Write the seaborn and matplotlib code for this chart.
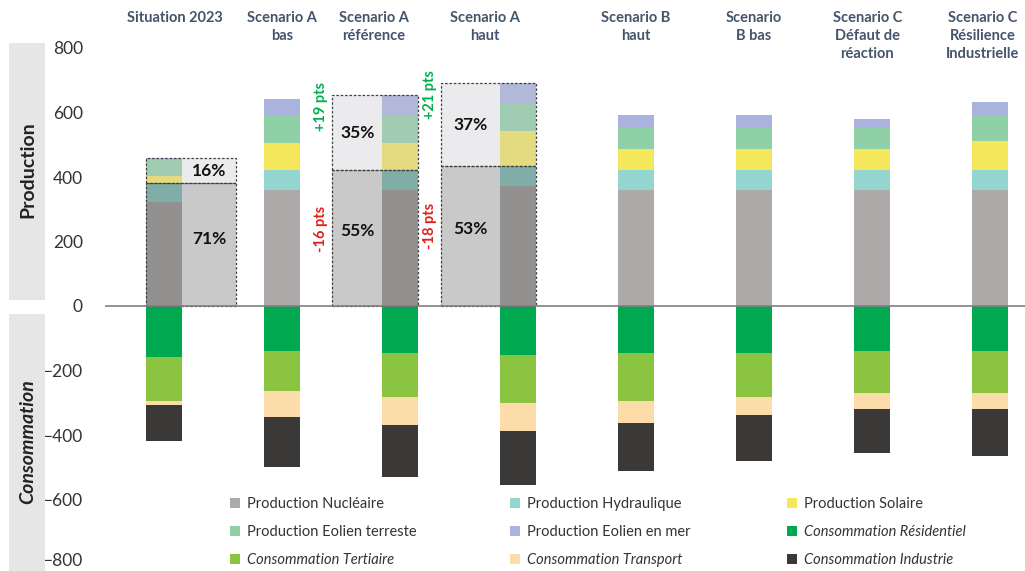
import numpy as np
import pandas as pd
import matplotlib
matplotlib.use("Agg")
import matplotlib.pyplot as plt
import matplotlib.transforms as mtransforms
from matplotlib.patches import Rectangle
import seaborn as sns

# =========================
# DATA (TWh)
# =========================
scenarios = ["Situation 2023", "Scenario A\nbas", "Scenario A\nréférence", "Scenario A\nhaut",
             "Scenario B\nhaut", "Scenario\nB bas", "Scenario C\nDéfaut de\nréaction",
             "Scenario C\nRésilience\nIndustrielle"]

prod_nucleaire = [323, 359, 359, 373, 359, 359, 359, 359]
prod_hydraulique = [57, 64, 62, 61, 64, 64, 64, 64]
prod_solaire = [24, 81, 83, 108, 63, 63, 63, 88]
prod_eolien_terre = [50, 87, 87, 87, 67, 67, 67, 80]
prod_eolien_mer = [6, 50, 62, 62, 38, 38, 26, 43]

conso_residentiel = [159, 140, 147, 153, 147, 147, 140, 140]
conso_tertiaire = [136, 124, 136, 148, 148, 136, 130, 130]
conso_transport = [12, 81, 87, 87, 68, 56, 50, 50]
conso_industrie = [111, 155, 161, 167, 150, 143, 137, 144]

# highlighted scenarios: share of controllable / variable production
highlight_idx = [0, 2, 3]
share_low = ["71%", "55%", "53%"]
share_high = ["16%", "35%", "37%"]
delta_low = ["-16 pts", "-18 pts"]
delta_high = ["+19 pts", "+21 pts"]

series = [
    ("Production Nucléaire", prod_nucleaire, "#AEAAAA"),
    ("Production Hydraulique", prod_hydraulique, "#93D5CF"),
    ("Production Solaire", prod_solaire, "#F5E75C"),
    ("Production Eolien terreste", prod_eolien_terre, "#8FD0A6"),
    ("Production Eolien en mer", prod_eolien_mer, "#A9B3DE"),
    ("Consommation Résidentiel", [-v for v in conso_residentiel], "#00A94F"),
    ("Consommation Tertiaire", [-v for v in conso_tertiaire], "#8BC441"),
    ("Consommation Transport", [-v for v in conso_transport], "#FCDCA8"),
    ("Consommation Industrie", [-v for v in conso_industrie], "#3B3838"),
]

# =========================
# STYLE
# =========================
sns.set_theme(style="white")
plt.rcParams["font.family"] = ["Lato", "DejaVu Sans"]
TXT = "#333333"
TITLE_C = "#44546A"
BAR_W = 0.305

fig = plt.figure(figsize=(10.25, 5.71), dpi=100)
ax = fig.add_axes([105 / 1025, 1 - 564 / 571, 920 / 1025, 516 / 571])

# =========================
# STACKED BARS
# =========================
pos_bottom = np.zeros(len(scenarios))
neg_bottom = np.zeros(len(scenarios))
handles = {}
for name, vals, color in series:
    vals = np.array(vals, dtype=float)
    bottom = pos_bottom if vals[0] >= 0 else neg_bottom
    df = pd.DataFrame({"scenario": range(len(scenarios)), "value": vals})
    sns.barplot(data=df, x="scenario", y="value", bottom=bottom.copy(), color=color,
                saturation=1, width=BAR_W, errorbar=None, linewidth=0, ax=ax, zorder=2)
    bottom += vals
    handles[name] = Rectangle((0, 0), 1, 1, facecolor=color, edgecolor="none")

# =========================
# HIGHLIGHT BOXES
# =========================
box_side = [1, -1, -1]
box_width = [0.46, 0.42, 0.50]
for k, i in enumerate(highlight_idx):
    low_top = prod_nucleaire[i] + prod_hydraulique[i]
    total = low_top + prod_solaire[i] + prod_eolien_terre[i] + prod_eolien_mer[i]
    if box_side[k] > 0:
        x0, x1 = i - BAR_W / 2, i + BAR_W / 2 + box_width[k]
        xc = i + BAR_W / 2 + box_width[k] / 2
    else:
        x0, x1 = i - BAR_W / 2 - box_width[k], i + BAR_W / 2
        xc = i - BAR_W / 2 - box_width[k] / 2
    ax.add_patch(Rectangle((x0, 0), x1 - x0, low_top, facecolor="#5d5d5d", alpha=0.33,
                           edgecolor="none", zorder=3))
    ax.add_patch(Rectangle((x0, low_top), x1 - x0, total - low_top, facecolor="#c4c4cc",
                           alpha=0.33, edgecolor="none", zorder=3))
    for y0, h in [(0, low_top), (low_top, total - low_top)]:
        ax.add_patch(Rectangle((x0, y0), x1 - x0, h, facecolor="none", edgecolor="#404040",
                               linestyle=(0, (2, 1.5)), linewidth=0.9, zorder=4))
    ax.text(xc, low_top * 0.55, share_low[k], ha="center", va="center", fontsize=12.5,
            fontweight="bold", color="#111111", zorder=5)
    ax.text(xc, (low_top + total) / 2, share_high[k], ha="center", va="center", fontsize=12.5,
            fontweight="bold", color="#111111", zorder=5)
    if k > 0:
        xa = x0 - 0.095
        ax.text(xa, total - 35, delta_high[k - 1], rotation=90, ha="center",
                va="center", fontsize=10.5, fontweight="bold", color="#00B050")
        ax.text(xa, low_top * 0.57, delta_low[k - 1], rotation=90, ha="center",
                va="center", fontsize=10.5, fontweight="bold", color="#E0201B")

# =========================
# AXES
# =========================
ax.axhline(0, color="#7f7f7f", lw=1.2, zorder=5)
ax.set_xlim(-0.5, 920 / 118 - 0.5)
ax.set_ylim(-800, 800)
ax.set_yticks(range(-800, 801, 200))
ax.tick_params(axis="y", labelsize=12.5, labelcolor=TXT, length=0, pad=16)
ax.set_xticks([])
ax.set_xlabel("")
ax.set_ylabel("")
sns.despine(ax=ax, left=True, bottom=True)
# keep the lowest tick label inside the picture
lowest = ax.get_yticklabels()[0]
lowest.set_transform(lowest.get_transform() +
                     mtransforms.ScaledTranslation(0, 3 / 72, fig.dpi_scale_trans))

# scenario titles on top
title_tr = mtransforms.blended_transform_factory(ax.transData, fig.transFigure)
label_shift = [0.09, 0.0, -0.22, -0.28, 0.0, 0.0, -0.04, -0.06]
for i, lab in enumerate(scenarios):
    ax.text(i + label_shift[i], 1 - 11 / 571, lab, transform=title_tr,
            ha="center", va="top", fontsize=10.5, fontweight="bold", color=TITLE_C,
            linespacing=1.35)

# side panels
fig.patches.append(Rectangle((9 / 1025, 1 - 300 / 571), 36 / 1025, 257 / 571,
                             transform=fig.transFigure, facecolor="#E7E6E6", edgecolor="none"))
fig.patches.append(Rectangle((9 / 1025, 0), 36 / 1025, 257 / 571,
                             transform=fig.transFigure, facecolor="#E7E6E6", edgecolor="none"))
fig.text(28 / 1025, 1 - 170 / 571, "Production", rotation=90, ha="center", va="center",
         fontsize=14, fontweight="bold", color="#222222")
fig.text(28 / 1025, 1 - 442 / 571, "Consommation", rotation=90, ha="center", va="center",
         fontsize=14, fontweight="bold", style="italic", color="#222222")

# =========================
# LEGEND (3 columns)
# =========================
columns = [
    ["Production Nucléaire", "Production Eolien terreste", "Consommation Tertiaire"],
    ["Production Hydraulique", "Production Eolien en mer", "Consommation Transport"],
    ["Production Solaire", "Consommation Résidentiel", "Consommation Industrie"],
]
col_x = [230, 510, 787]
for cx, names in zip(col_x, columns):
    leg = fig.legend([handles[n] for n in names], names, loc="upper left",
                     bbox_to_anchor=(cx / 1025, 1 - 497 / 571), frameon=False, fontsize=10.5,
                     handlelength=0.7, handleheight=0.7, handletextpad=0.45,
                     labelspacing=0.97, borderpad=0, borderaxespad=0)
    for t in leg.get_texts():
        t.set_color(TXT)
        if t.get_text().startswith("Consommation"):
            t.set_fontstyle("italic")

plt.savefig("out.png", dpi=100)
plt.close()
